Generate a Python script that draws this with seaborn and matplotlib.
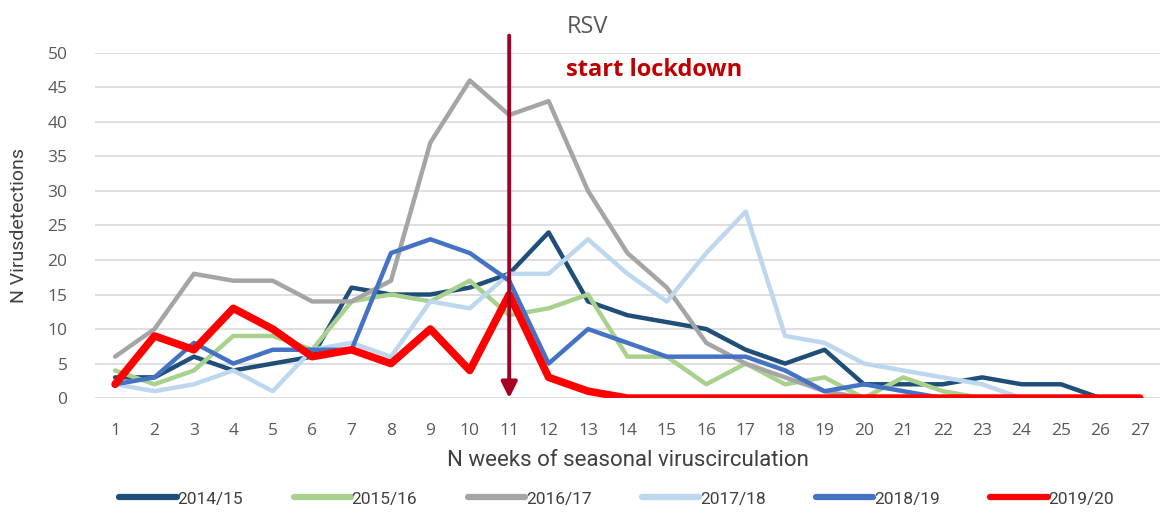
import numpy as np
import pandas as pd
import matplotlib
matplotlib.use("Agg")
import matplotlib.pyplot as plt
import seaborn as sns

# ── DATA ─────────────────────────────────────
weeks = list(range(1, 28))

s1415 = [3, 3, 6, 4, 5, 6, 16, 15, 15, 16, 18, 24, 14, 12, 11, 10, 7, 5, 7, 2, 2, 2, 3, 2, 2, 0, np.nan]
s1516 = [4, 2, 4, 9, 9, 7, 14, 15, 14, 17, 12, 13, 15, 6, 6, 2, 5, 2, 3, 0, 3, 1, 0, 0, 0, 0, np.nan]
s1617 = [6, 10, 18, 17, 17, 14, 14, 17, 37, 46, 41, 43, 30, 21, 16, 8, 5, 3, 1, 0, 0, 0, 0, 0, 0, 0, np.nan]
s1718 = [2, 1, 2, 4, 1, 7, 8, 6, 14, 13, 18, 18, 23, 18, 14, 21, 27, 9, 8, 5, 4, 3, 2, 0, 0, 0, np.nan]
s1819 = [2, 3, 8, 5, 7, 7, 7, 21, 23, 21, 17, 5, 10, 8, 6, 6, 6, 4, 1, 2, 1, 0, 0, 0, 0, 0, np.nan]
s1920 = [2, 9, 7, 13, 10, 6, 7, 5, 10, 4, 15, 3, 1, 0, 0, 0, 0, 0, 0, 0, 0, 0, 0, 0, 0, 0, 0]

season_labels = ["2014/15", "2015/16", "2016/17", "2017/18", "2018/19", "2019/20"]
season_colors = ["#1F4E79", "#A9D18E", "#A5A5A5", "#BDD7EE", "#4472C4", "#FF0000"]
season_widths = [3.2, 3.2, 3.2, 3.2, 3.2, 5.5]

lockdown_week = 11

# ── PLOT ─────────────────────────────────────
sns.set_theme(style="white")
plt.rcParams["font.family"] = ["Open Sans", "DejaVu Sans"]
narrow = ["Liberation Sans Narrow", "Roboto", "DejaVu Sans"]

fig = plt.figure(figsize=(11.63, 5.13), dpi=100, facecolor="white")
ax = fig.add_axes([0.082, 0.224, 0.915, 0.673])

series = [s1415, s1516, s1617, s1718, s1819, s1920]
for vals, lbl, col, lw in zip(series, season_labels, season_colors, season_widths):
    df = pd.DataFrame({"week": weeks, "n": vals}).dropna()
    sns.lineplot(data=df, x="week", y="n", color=col, lw=lw, label=lbl,
                 ax=ax, zorder=4 if lbl == "2019/20" else 3)

ax.set_xlim(0.5, 27.5)
ax.set_ylim(0, 50)
ax.set_xticks(weeks)
ax.set_yticks(range(0, 51, 5))
ax.tick_params(axis="both", length=0, labelsize=12.5, colors="#595959")
ax.tick_params(axis="x", pad=18)
ax.tick_params(axis="y", pad=20)
ax.yaxis.grid(True, color="#D9D9D9", lw=1.2)
for sp in ax.spines.values():
    sp.set_visible(False)

ax.set_xlabel("N weeks of seasonal viruscirculation", fontsize=16, color="#404040",
              family=narrow, labelpad=8)
ax.set_ylabel("N Virusdetections", fontsize=14, color="#404040",
              family=narrow, labelpad=14)

# lockdown arrow
ax.annotate("", xy=(lockdown_week, 0), xytext=(lockdown_week, 52.5),
            arrowprops=dict(arrowstyle="-|>", color="#A50021", lw=2.8,
                            mutation_scale=24, shrinkA=0, shrinkB=0),
            annotation_clip=False, zorder=5)
ax.text(12.45, 53.8, "RSV", fontsize=17, color="#595959", va="center", clip_on=False)
ax.text(12.45, 47.5, "start lockdown", fontsize=17, color="#C00000",
        fontweight="bold", va="center")

leg = ax.legend(loc="upper center", bbox_to_anchor=(0.49, -0.225), ncol=6,
                frameon=False, handlelength=3.3, handletextpad=0.05,
                columnspacing=2.9,
                prop={"family": narrow, "size": 12.5})
for h in leg.get_lines():
    h.set_linewidth(4.5)
for t in leg.get_texts():
    t.set_color("#404040")

plt.savefig("out.png", dpi=100, facecolor="white")
plt.close()
